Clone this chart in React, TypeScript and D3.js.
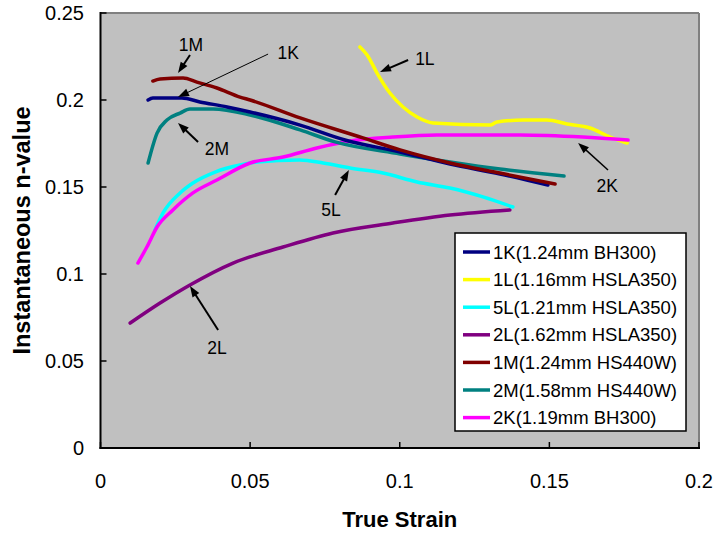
import React from "react";
import * as d3 from "d3";

type P = [number, number];

const xTicks = [0, 0.05, 0.1, 0.15, 0.2];
const yTicks = [0, 0.05, 0.1, 0.15, 0.2, 0.25];
const xTickLabels = ["0", "0.05", "0.1", "0.15", "0.2"];
const yTickLabels = ["0", "0.05", "0.1", "0.15", "0.2", "0.25"];

const s1K: P[] = [
  [0.0159, 0.2], [0.0175, 0.2011], [0.0272, 0.2011], [0.0332, 0.1989], [0.0423, 0.196],
  [0.05, 0.1931], [0.0667, 0.1856], [0.0817, 0.177], [0.1001, 0.1701], [0.1168, 0.1632],
  [0.1335, 0.1575], [0.1495, 0.1511],
];
const s1L: P[] = [
  [0.0867, 0.2305], [0.0891, 0.2259], [0.0924, 0.2155], [0.0967, 0.204], [0.1011, 0.196],
  [0.1058, 0.1902], [0.1111, 0.1868], [0.1302, 0.1856], [0.1325, 0.1874], [0.1412, 0.1885],
  [0.1492, 0.1885], [0.1559, 0.1862], [0.1636, 0.1839], [0.1703, 0.1787], [0.176, 0.1753],
];
const s5L: P[] = [
  [0.0182, 0.1253], [0.0209, 0.1351], [0.0266, 0.1466], [0.0309, 0.1523], [0.0383, 0.1586],
  [0.0466, 0.1626], [0.0523, 0.1644], [0.0666, 0.1655], [0.0744, 0.1638], [0.0834, 0.1609],
  [0.0944, 0.158], [0.1058, 0.1529], [0.1168, 0.1494], [0.1278, 0.1443], [0.1378, 0.1385],
];
const s2L: P[] = [
  [0.0099, 0.0718], [0.0199, 0.0833], [0.0299, 0.0937], [0.0443, 0.1063], [0.061, 0.1155],
  [0.0777, 0.1236], [0.0977, 0.1293], [0.1168, 0.1339], [0.1368, 0.1368],
];
const s1M: P[] = [
  [0.0175, 0.2109], [0.0199, 0.2121], [0.0276, 0.2126], [0.0322, 0.2103], [0.0389, 0.2069],
  [0.0466, 0.2017], [0.05, 0.2], [0.0667, 0.1897], [0.0877, 0.1782], [0.1001, 0.1713],
  [0.1168, 0.1638], [0.1335, 0.158], [0.1519, 0.1517],
];
const s2M: P[] = [
  [0.0159, 0.1638], [0.0189, 0.181], [0.0222, 0.1885], [0.0266, 0.1925], [0.0299, 0.1948],
  [0.0376, 0.1948], [0.05, 0.1914], [0.0667, 0.1828], [0.0784, 0.1759], [0.1001, 0.169],
  [0.1168, 0.1644], [0.1335, 0.1603], [0.1549, 0.1563],
];
const s2K: P[] = [
  [0.0125, 0.1063], [0.0155, 0.1155], [0.0189, 0.127], [0.0242, 0.1368], [0.0309, 0.1466],
  [0.0389, 0.154], [0.05, 0.1638], [0.061, 0.1672], [0.0723, 0.1724], [0.0834, 0.1764],
  [0.0977, 0.1787], [0.1124, 0.1799], [0.1402, 0.1799], [0.1612, 0.1787], [0.1763, 0.177],
];

const seriesNames = [
  "1K(1.24mm BH300)",
  "1L(1.16mm HSLA350)",
  "5L(1.21mm HSLA350)",
  "2L(1.62mm HSLA350)",
  "1M(1.24mm HS440W)",
  "2M(1.58mm HS440W)",
  "2K(1.19mm BH300)",
];
const seriesColors = ["#000080", "#FFFF00", "#00FFFF", "#800080", "#800000", "#008080", "#FF00FF"];
const seriesData = [s1K, s1L, s5L, s2L, s1M, s2M, s2K];
// draw order (back to front)
const drawOrder = [3, 2, 1, 6, 5, 0, 4];

const annLabels = ["1M", "1K", "2M", "1L", "5L", "2K", "2L"];
const annLabelPos: P[] = [
  [0.0302, 0.2316], [0.0627, 0.227], [0.0389, 0.1718], [0.1084, 0.2236],
  [0.077, 0.1368], [0.1693, 0.1506], [0.0389, 0.0575],
];
const annTail: P[] = [
  [0.0299, 0.2259], [0.056, 0.2264], [0.0326, 0.1759], [0.1028, 0.223],
  [0.0784, 0.1454], [0.1696, 0.1598], [0.0393, 0.0678],
];
const annHead: P[] = [
  [0.0259, 0.2155], [0.0259, 0.2017], [0.0259, 0.1868], [0.0934, 0.2161],
  [0.083, 0.1598], [0.1596, 0.1753], [0.0299, 0.0931],
];
const annWidth = [2, 1, 2, 2, 2, 1.5, 2];

const W = 714;
const H = 533;
const left = 100.5;
const right = 699;
const top = 13;
const bottom = 448;
const FONT = "Arial, 'Liberation Sans', sans-serif";

export default function App() {
  const x = d3.scaleLinear().domain([0, 0.2]).range([left, right]);
  const y = d3.scaleLinear().domain([0, 0.25]).range([bottom, top]);
  const line = d3
    .line<P>()
    .x((d) => x(d[0]))
    .y((d) => y(d[1]))
    .curve(d3.curveMonotoneX);

  const arrowHead = (t: P, h: P, len: number, wid: number) => {
    const x1 = x(t[0]), y1 = y(t[1]), x2 = x(h[0]), y2 = y(h[1]);
    const dx = x2 - x1, dy = y2 - y1;
    const L = Math.hypot(dx, dy);
    const ux = dx / L, uy = dy / L;
    const bx = x2 - ux * len, by = y2 - uy * len;
    const px = -uy, py = ux;
    return {
      shaft: [x1, y1, bx + ux * 1, by + uy * 1],
      poly: `${x2},${y2} ${bx + px * wid / 2},${by + py * wid / 2} ${bx - px * wid / 2},${by - py * wid / 2}`,
    };
  };

  const legX = 455, legY = 233, legW = 231, legH = 198, rowH = 27.6;
  const cx = (left + right) / 2;
  const cy = (top + bottom) / 2;

  return (
    <svg width={W} height={H} style={{ position: "absolute", left: 0, top: 0, background: "#fff" }} fontFamily={FONT}>
      <rect x={left} y={top} width={right - left} height={bottom - top} fill="#C0C0C0" />
      <clipPath id="plotclip">
        <rect x={left} y={top} width={right - left} height={bottom - top} />
      </clipPath>
      <line x1={left} y1={top} x2={right} y2={top} stroke="#808080" strokeWidth={2} />
      <line x1={right} y1={top} x2={right} y2={bottom} stroke="#808080" strokeWidth={2} />
      <g clipPath="url(#plotclip)">
        {drawOrder.map((i) => (
          <path key={i} d={line(seriesData[i]) || ""} fill="none" stroke={seriesColors[i]} strokeWidth={3.5} strokeLinecap="round" strokeLinejoin="round" />
        ))}
      </g>
      <line x1={left} y1={top - 1} x2={left} y2={bottom + 1} stroke="#000" strokeWidth={2} />
      <line x1={left - 1} y1={bottom} x2={right + 1} y2={bottom} stroke="#000" strokeWidth={2} />
      {yTicks.map((t, i) => (
        <g key={"y" + i}>
          <line x1={left} x2={left + 6} y1={y(t)} y2={y(t)} stroke="#000" strokeWidth={1.5} />
          <text x={84} y={y(t) + 7} textAnchor="end" fontSize={20} fill="#000">{yTickLabels[i]}</text>
        </g>
      ))}
      {xTicks.map((t, i) => (
        <g key={"x" + i}>
          <line x1={x(t)} x2={x(t)} y1={bottom} y2={bottom - 6} stroke="#000" strokeWidth={1.5} />
          <text x={x(t)} y={488} textAnchor="middle" fontSize={20} fill="#000">{xTickLabels[i]}</text>
        </g>
      ))}
      <text x={cx} y={527} textAnchor="middle" fontSize={22} fontWeight="bold" fill="#000">True Strain</text>
      <text transform={`translate(30,${cy}) rotate(-90)`} textAnchor="middle" fontSize={23.5} fontWeight="bold" fill="#000">Instantaneous n-value</text>
      {annLabels.map((lab, i) => {
        const a = arrowHead(annTail[i], annHead[i], 11, 8);
        return (
          <g key={"a" + i}>
            <line x1={a.shaft[0]} y1={a.shaft[1]} x2={a.shaft[2]} y2={a.shaft[3]} stroke="#000" strokeWidth={annWidth[i]} />
            <polygon points={a.poly} fill="#000" />
            <text x={x(annLabelPos[i][0])} y={y(annLabelPos[i][1]) + 6} textAnchor="middle" fontSize={17.5} fill="#000">{lab}</text>
          </g>
        );
      })}
      <rect x={legX} y={legY} width={legW} height={legH} fill="#fff" stroke="#000" strokeWidth={1.5} />
      {seriesNames.map((n, i) => {
        const ly = legY + 19 + i * rowH;
        return (
          <g key={"l" + i}>
            <line x1={463} x2={490} y1={ly} y2={ly} stroke={seriesColors[i]} strokeWidth={3.5} />
            <text x={493} y={ly + 6.5} fontSize={18.5} fill="#000">{n}</text>
          </g>
        );
      })}
    </svg>
  );
}
